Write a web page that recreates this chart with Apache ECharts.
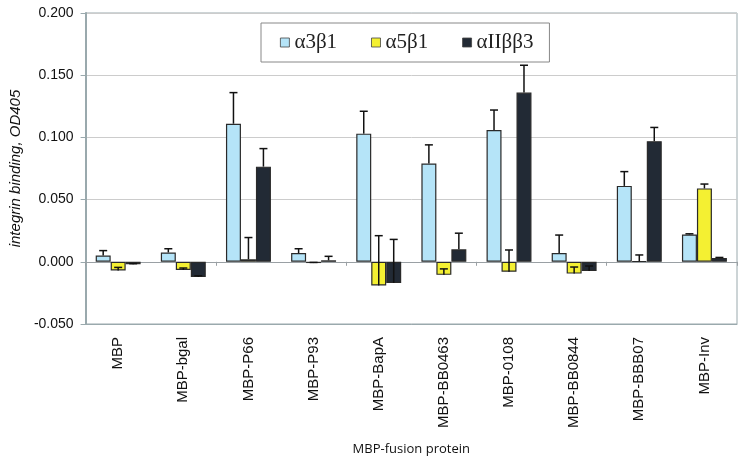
<!DOCTYPE html>
<html>
<head>
<meta charset="utf-8">
<script src="https://cdn.jsdelivr.net/npm/echarts@6/dist/echarts.min.js"></script>
<style>html,body{margin:0;padding:0;background:#fff;}#chart{width:744px;height:464px;}</style>
</head>
<body>
<div id="chart"></div>
<script>
const categories = ['MBP','MBP-bgal','MBP-P66','MBP-P93','MBP-BapA','MBP-BB0463','MBP-0108','MBP-BB0844','MBP-BBB07','MBP-Inv'];
const seriesNames = ['α3β1','α5β1','αIIββ3'];
const a3b1 = [0.005, 0.0075, 0.111, 0.007, 0.103, 0.079, 0.106, 0.007, 0.061, 0.022];
const a3b1Err = [0.004, 0.003, 0.025, 0.0035, 0.018, 0.015, 0.016, 0.0145, 0.0115, 0.0005];
const a5b1 = [-0.007, -0.0065, 0.002, -0.001, -0.019, -0.0105, -0.008, -0.0095, 0.0005, 0.059];
const a5b1Err = [0.0025, 0.0015, 0.0175, 0.0005, 0.04, 0.0048, 0.0175, 0.0053, 0.005, 0.0035];
const aIIbb3 = [-0.002, -0.0122, 0.0765, 0.0012, -0.017, 0.010, 0.136, -0.0074, 0.097, 0.003];
const aIIbb3Err = [0.0005, 0.001, 0.0145, 0.0032, 0.035, 0.013, 0.022, 0.004, 0.011, 0.0005];
const yTicks = [-0.05, 0, 0.05, 0.1, 0.15, 0.2];

const colors = ['#b5e4f8', '#f4f032', '#222a35'];
const GAP = 0.31;

function barSeries(name, data, color) {
  return {
    name: name, type: 'bar', data: data,
    xAxisIndex: 0, yAxisIndex: 0,
    barGap: '0%', barCategoryGap: (GAP * 100) + '%',
    itemStyle: { color: color, borderColor: '#2a2a2a', borderWidth: 1.2 },
    emphasis: { disabled: true }
  };
}
function errSeries(idx, vals, errs) {
  return {
    type: 'custom', xAxisIndex: 0, yAxisIndex: 0, z: 10, silent: true,
    data: vals.map((v, i) => [i, v, v + errs[i]]),
    encode: { x: 0, y: [1, 2] },
    renderItem: function (params, api) {
      const i = api.value(0);
      const p0 = api.coord([i, api.value(1)]);
      const p1 = api.coord([i, api.value(2)]);
      const band = api.size([1, 0])[0];
      const bw = band * (1 - GAP) / 3;
      const x = p0[0] + (idx - 1) * bw;
      const st = { stroke: '#111', lineWidth: 1.5 };
      return { type: 'group', children: [
        { type: 'line', shape: { x1: x, y1: p0[1], x2: x, y2: p1[1] }, style: st },
        { type: 'line', shape: { x1: x - 4, y1: p1[1], x2: x + 4, y2: p1[1] }, style: st }
      ]};
    }
  };
}

const chart = echarts.init(document.getElementById('chart'), null, { renderer: 'canvas' });
chart.setOption({
  animation: false,
  backgroundColor: '#fff',
  grid: { left: 82, right: 7, top: 13, bottom: 140, show: true, borderColor: '#9aa9ad', borderWidth: 1, containLabel: false },
  legend: {
    data: seriesNames,
    icon: 'rect',
    left: 261, top: 23,
    padding: [9, 16, 9, 19],
    itemGap: 34, itemWidth: 9, itemHeight: 9,
    borderColor: '#888', borderWidth: 1,
    backgroundColor: '#fff',
    itemStyle: { borderColor: '#444', borderWidth: 0.8 },
    textStyle: { fontFamily: 'Liberation Serif', fontSize: 21, color: '#222' },
    selectedMode: false
  },
  xAxis: [
    {
      type: 'category', data: categories, position: 'bottom',
      axisLine: { onZero: false, show: true, lineStyle: { color: '#9aa9ad', width: 1 } },
      axisTick: { show: false },
      axisLabel: { rotate: 90, margin: 13, fontSize: 15, fontFamily: 'Liberation Sans', color: '#111', interval: 0 },
      name: 'MBP-fusion protein', nameLocation: 'middle', nameGap: 119,
      nameTextStyle: { fontFamily: 'Open Sans', fontSize: 13, color: '#111' }
    },
    {
      type: 'category', data: categories, position: 'bottom',
      axisLine: { onZero: true, show: true, lineStyle: { color: '#9aa0a4', width: 1.2 } },
      axisTick: { show: true, length: 4, lineStyle: { color: '#9aa0a4' } },
      axisLabel: { show: false }
    }
  ],
  yAxis: {
    type: 'value', min: -0.05, max: 0.2, interval: 0.05,
    axisLine: { show: true, lineStyle: { color: '#9aa9ad', width: 2 } },
    axisTick: { show: true, length: 5, lineStyle: { color: '#9aa9ad' } },
    splitLine: { show: true, lineStyle: { color: '#cccccc', width: 1 } },
    axisLabel: {
      fontSize: 14, fontFamily: 'Liberation Sans', color: '#111', margin: 12,
      formatter: v => yTicks.some(t => Math.abs(t - v) < 1e-9) ? v.toFixed(3) : ''
    },
    name: 'integrin binding, OD405', nameLocation: 'middle', nameGap: 60,
    nameTextStyle: { fontFamily: 'Liberation Sans', fontStyle: 'italic', fontSize: 15, color: '#111' }
  },
  series: [
    barSeries(seriesNames[0], a3b1, colors[0]),
    barSeries(seriesNames[1], a5b1, colors[1]),
    barSeries(seriesNames[2], aIIbb3, colors[2]),
    errSeries(0, a3b1, a3b1Err),
    errSeries(1, a5b1, a5b1Err),
    errSeries(2, aIIbb3, aIIbb3Err)
  ]
});
</script>
</body>
</html>
